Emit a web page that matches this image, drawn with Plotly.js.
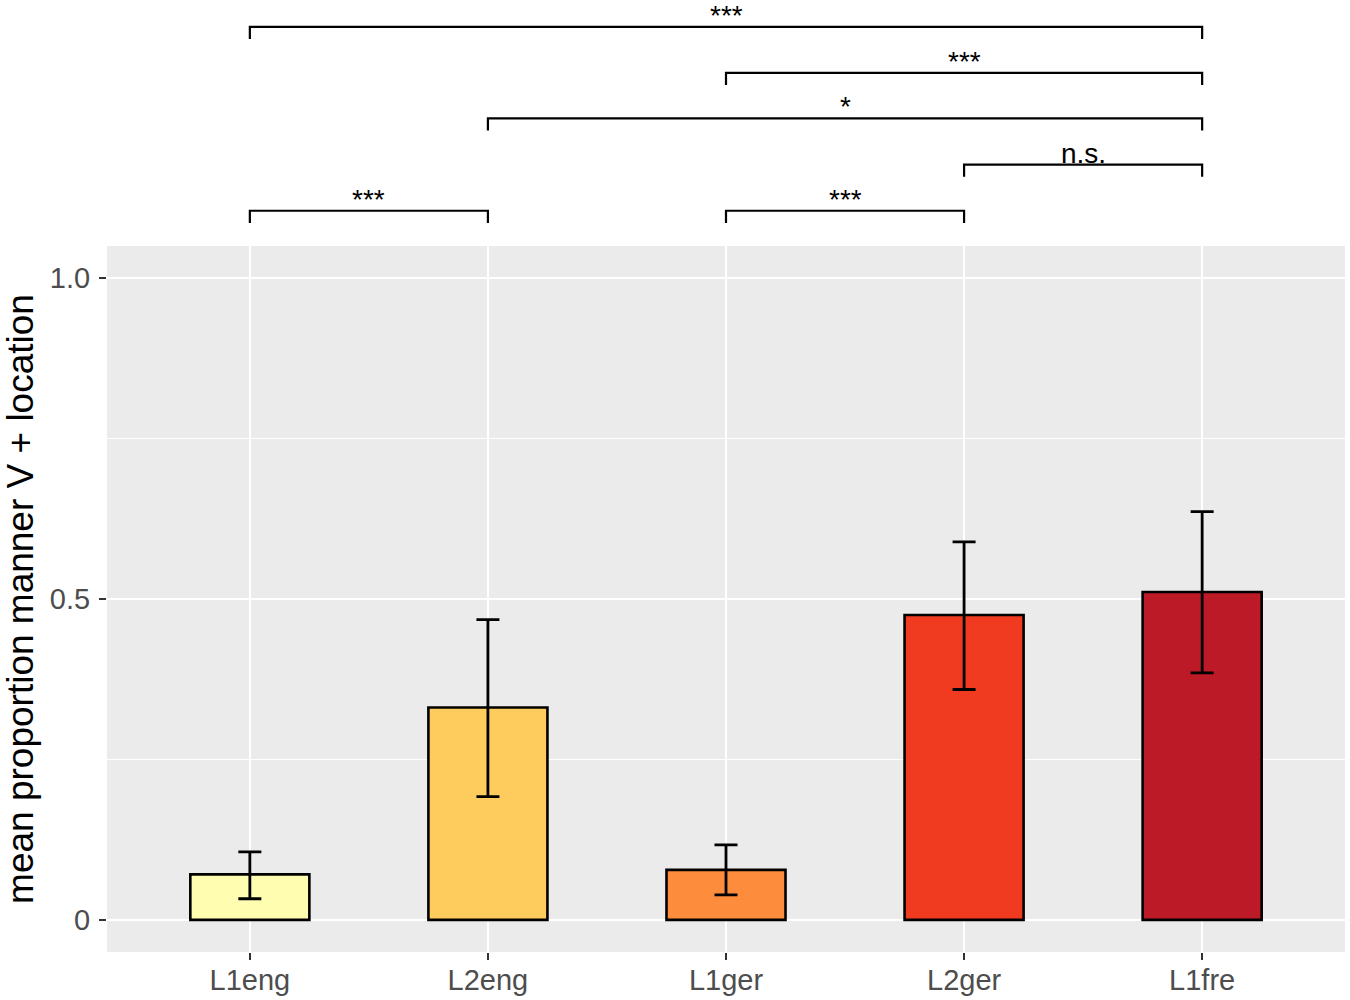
<!DOCTYPE html>
<html>
<head>
<meta charset="utf-8">
<script src="https://cdn.plot.ly/plotly-3.0.1.min.js"></script>
<style>
  html, body { margin: 0; padding: 0; background: #fff; }
  #graph { width: 1350px; height: 1000px; }
</style>
</head>
<body>
<div id="graph"></div>
<script>
/* ----- Data ------- */
var groups = ['L1eng', 'L2eng', 'L1ger', 'L2ger', 'L1fre'];
var meanProp = [0.071, 0.331, 0.078, 0.475, 0.511]; // mean proportion manner V + location
var ciUpper = [0.106, 0.468, 0.117, 0.589, 0.636];
var ciLower = [0.033, 0.192, 0.039, 0.359, 0.385];
var barColors = ['#FFFDB0', '#FECC5C', '#FD8D3C', '#F03B20', '#BD1A27'];

var yTickVals = [0, 0.5, 1];
var yTickText = ['0', '0.5', '1.0'];

// significance comparisons (bracket from group to group, drawn at height)
var compFrom = ['L1eng', 'L1ger', 'L2eng', 'L2ger', 'L1eng', 'L1ger'];
var compTo = ['L1fre', 'L1fre', 'L1fre', 'L1fre', 'L2eng', 'L2ger'];
var compLabel = ['***', '***', '*', 'n.s.', '***', '***'];
var compY = [1.392, 1.320, 1.249, 1.177, 1.105, 1.105];

var tipDrop = 0.019; // length of the bracket ends
var fontFam = 'Liberation Sans, Arial, Helvetica, sans-serif';

/* ----- Bars ------- */
var bars = {
    x: groups,
    y: meanProp,
    type: 'bar',
    width: 0.5,
    marker: {color: barColors, line: {color: '#000', width: 2.6}},
    error_y: {
        type: 'data',
        symmetric: false,
        array: meanProp.map(function(m, i) { return ciUpper[i] - m; }),
        arrayminus: meanProp.map(function(m, i) { return m - ciLower[i]; }),
        color: '#000',
        thickness: 2.8,
        width: 11.5
    },
    hoverinfo: 'none',
    showlegend: false
};

/* ----- Significance brackets ------- */
var data = [bars];
var annotations = [];
for (var i = 0; i < compFrom.length; i++) {
    var level = compY[i];
    data.push({
        x: [compFrom[i], compFrom[i], compTo[i], compTo[i]],
        y: [level - tipDrop, level, level, level - tipDrop],
        xaxis: 'x2',
        yaxis: 'y2',
        mode: 'lines',
        line: {color: '#000', width: 2.2},
        cliponaxis: false,
        hoverinfo: 'none',
        showlegend: false
    });
    annotations.push({
        x: (groups.indexOf(compFrom[i]) + groups.indexOf(compTo[i])) / 2,
        y: level,
        xref: 'x2',
        yref: 'y2',
        yanchor: 'bottom',
        yshift: -5,
        borderpad: 0,
        text: compLabel[i],
        showarrow: false,
        font: {family: fontFam, size: 28, color: '#000'}
    });
}

var panelTop = 0.7416;
var yRange = [-0.05, 1.05];

var layout = {
    width: 1350,
    height: 1000,
    margin: {l: 107, r: 5, t: 0, b: 48},
    paper_bgcolor: '#fff',
    plot_bgcolor: 'rgba(0,0,0,0)',
    font: {family: fontFam},
    showlegend: false,
    xaxis: {
        type: 'category',
        categoryorder: 'array',
        categoryarray: groups,
        range: [-0.6, 4.6],
        domain: [0, 1],
        anchor: 'y',
        showgrid: true,
        gridcolor: '#fff',
        gridwidth: 2.6,
        zeroline: false,
        showline: false,
        ticks: 'outside',
        ticklen: 7,
        tickwidth: 2.2,
        tickcolor: '#333',
        ticklabelstandoff: -5,
        tickfont: {size: 29, color: '#4D4D4D'}
    },
    yaxis: {
        domain: [0, panelTop],
        anchor: 'x',
        range: yRange,
        tickmode: 'array',
        tickvals: yTickVals,
        ticktext: yTickText,
        showgrid: true,
        gridcolor: '#fff',
        gridwidth: 2.6,
        minor: {tick0: 0, dtick: 0.25, showgrid: true, gridcolor: '#fff', gridwidth: 1.3, ticks: ''},
        zeroline: false,
        showline: false,
        ticks: 'outside',
        ticklen: 7,
        tickwidth: 2.2,
        tickcolor: '#333',
        ticklabelstandoff: 3,
        tickfont: {size: 29, color: '#4D4D4D'},
        title: {
            text: 'mean proportion manner V + location',
            font: {size: 37, color: '#000'},
            standoff: 4
        }
    },
    xaxis2: {
        type: 'category',
        categoryorder: 'array',
        categoryarray: groups,
        range: [-0.6, 4.6],
        domain: [0, 1],
        anchor: 'y2',
        visible: false
    },
    yaxis2: {
        domain: [panelTop, 1],
        anchor: 'x2',
        range: [1.05, 1.05 + 246 / 641],
        visible: false
    },
    shapes: [{
        type: 'rect',
        xref: 'paper',
        yref: 'paper',
        x0: 0, x1: 1, y0: 0, y1: panelTop,
        fillcolor: '#EBEBEB',
        line: {width: 0},
        layer: 'below'
    }],
    annotations: annotations
};

Plotly.newPlot(document.getElementById('graph'), data, layout, {staticPlot: true});
</script>
</body>
</html>
